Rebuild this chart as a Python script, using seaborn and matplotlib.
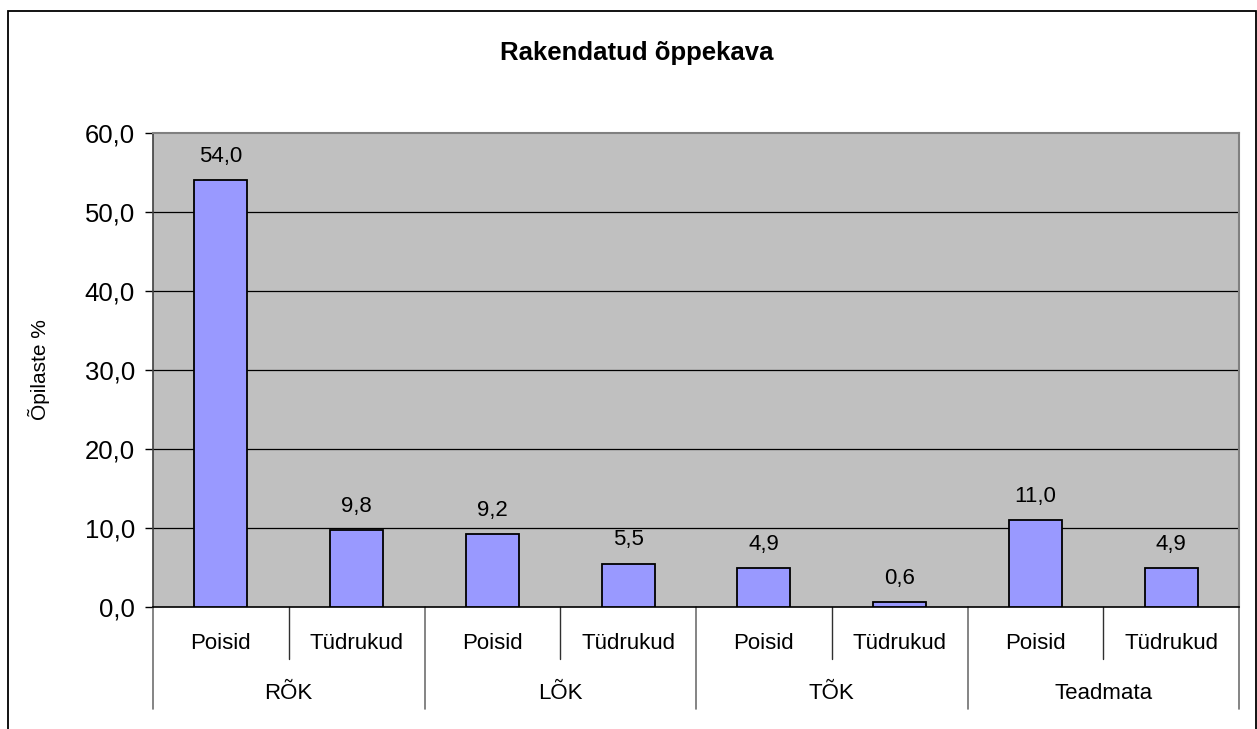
import pandas as pd
import seaborn as sns
import matplotlib.pyplot as plt
from matplotlib.patches import Rectangle
from matplotlib.transforms import blended_transform_factory

# chart data
groups = ['RÕK', 'LÕK', 'TÕK', 'Teadmata']
genders = ['Poisid', 'Tüdrukud']
values = [54.0, 9.8, 9.2, 5.5, 4.9, 0.6, 11.0, 4.9]
y_ticks = [0, 10, 20, 30, 40, 50, 60]

rows = []
i = 0
for g in groups:
    for s in genders:
        rows.append({'group': g, 'gender': s, 'key': g + ' ' + s, 'value': values[i]})
        i += 1
df = pd.DataFrame(rows)

sns.set_style('white')
fonts = ['Liberation Sans', 'DejaVu Sans']
plt.rcParams['font.family'] = fonts
plt.rcParams['text.color'] = 'black'
plt.rcParams['axes.labelcolor'] = 'black'
plt.rcParams['ytick.color'] = 'black'

fig = plt.figure(figsize=(12.57, 7.29), dpi=100)
ax = fig.add_axes([153 / 1257, 1 - 607 / 729, (1239 - 153) / 1257, (607 - 133) / 729])

sns.barplot(data=df, x='key', y='value', order=df['key'], color='#9999FF',
            saturation=1, width=0.39, edgecolor='black', linewidth=1.3, ax=ax, zorder=3)

ax.set_facecolor('#C0C0C0')
ax.set_ylim(0, 60)
ax.set_xlim(-0.5, 7.5)
ax.set_yticks(y_ticks)
ax.set_yticklabels([f'{t:.1f}'.replace('.', ',') for t in y_ticks], fontsize=18.5)
ax.tick_params(axis='y', direction='out', length=6, width=1, color='black', pad=7, left=True)
ax.set_xticks([])
ax.set_xlabel('')
ax.set_ylabel('Õpilaste %', fontsize=15, family=fonts)
ax.yaxis.set_label_coords(-0.095, 0.5)

for t in y_ticks[1:-1]:
    ax.axhline(t, color='black', linewidth=0.9, zorder=1)

for side in ['top', 'right']:
    ax.spines[side].set_color('#808080')
    ax.spines[side].set_linewidth(1.5)
ax.spines['left'].set_color('#404040')
ax.spines['left'].set_linewidth(1.2)
ax.spines['bottom'].set_color('black')
ax.spines['bottom'].set_linewidth(1.2)

# value labels
for p, v in zip(ax.patches, values):
    ax.annotate(f'{v:.1f}'.replace('.', ','), (p.get_x() + p.get_width() / 2, p.get_height()),
                xytext=(0, 13), textcoords='offset points', ha='center', va='baseline',
                fontsize=16)

# multi-level category axis
tr = blended_transform_factory(ax.transData, ax.transAxes)
for k in range(len(df)):
    ax.text(k, -0.077, df['gender'][k], transform=tr, ha='center', va='center', fontsize=16)
for j, g in enumerate(groups):
    ax.text(2 * j + 0.5, -0.183, g, transform=tr, ha='center', va='center', fontsize=16)
    ax.plot([2 * j + 0.5, 2 * j + 0.5], [0, -0.11], transform=tr, color='#303030',
            linewidth=1, clip_on=False)
for j in range(len(groups) + 1):
    ax.plot([2 * j - 0.5, 2 * j - 0.5], [0, -0.215], transform=tr, color='#707070',
            linewidth=1.2, clip_on=False)

fig.text(637 / 1257, 1 - 53 / 729, 'Rakendatud õppekava', ha='center', va='center',
         fontsize=18.5, fontweight='bold')

fig.patches.append(Rectangle((8 / 1257, -0.05), (1256 - 8) / 1257, 1.05 - 11 / 729,
                             transform=fig.transFigure, fill=False, edgecolor='black',
                             linewidth=1.3))

fig.savefig('out.png', dpi=100)
